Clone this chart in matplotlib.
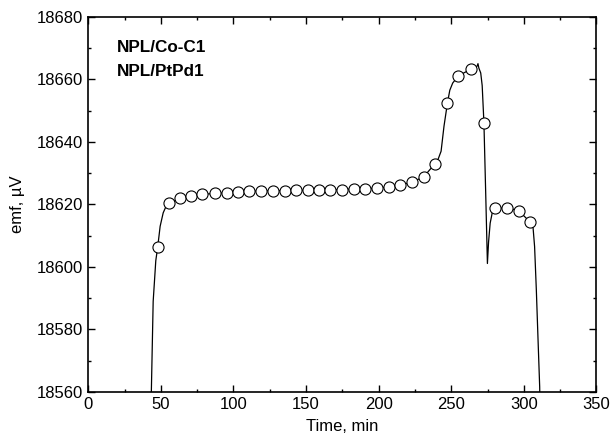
import matplotlib.pyplot as plt
from matplotlib.ticker import MultipleLocator

plt.rcParams['font.family'] = ['Liberation Sans', 'DejaVu Sans']

# Puntos medidos (marcadores)
t_puntos = [47.8, 55.3, 63.1, 70.9, 78.5, 87.2, 95.3, 102.8, 110.8, 118.9, 126.9,
            135.2, 142.9, 151.2, 159.0, 166.8, 174.8, 182.9, 190.9, 198.9, 206.9,
            215.0, 222.9, 231.0, 238.6, 247.4, 254.9, 263.4, 272.5, 280.4, 288.2,
            296.4, 304.2]
emf_puntos = [18606.3, 18620.3, 18621.9, 18622.8, 18623.2, 18623.5, 18623.7, 18624.0,
              18624.2, 18624.3, 18624.4, 18624.4, 18624.5, 18624.5, 18624.7, 18624.7,
              18624.7, 18625.0, 18625.0, 18625.2, 18625.6, 18626.2, 18627.1, 18628.8,
              18632.9, 18652.5, 18661.1, 18663.2, 18646.1, 18618.7, 18618.9, 18618.0,
              18614.4]

# Registro continuo (linea)
t_linea = [43.0, 44.7, 46.5, 47.8, 49.5, 51.6, 53.5, 55.3, 63.1, 70.9, 78.5, 87.2,
           95.3, 102.8, 110.8, 118.9, 126.9, 135.2, 142.9, 151.2, 159.0, 166.8, 174.8,
           182.9, 190.9, 198.9, 206.9, 215.0, 222.9, 231.0, 238.6, 241.0, 243.0, 245.0,
           247.4, 249.0, 251.0, 254.9, 263.4, 266.5, 267.8, 268.4, 269.0, 270.3, 271.3,
           272.5, 273.7, 274.9, 275.7, 276.8, 278.3, 280.4, 288.2, 296.4, 304.2, 306.3,
           307.4, 308.6, 309.7, 310.9, 311.3]
emf_linea = [18550.0, 18589.0, 18602.0, 18606.3, 18613.0, 18617.3, 18619.3, 18620.3,
             18621.9, 18622.8, 18623.2, 18623.5, 18623.7, 18624.0, 18624.2, 18624.3,
             18624.4, 18624.4, 18624.5, 18624.5, 18624.7, 18624.7, 18624.7, 18625.0,
             18625.0, 18625.2, 18625.6, 18626.2, 18627.1, 18628.8, 18632.9, 18634.5,
             18637.0, 18645.0, 18652.5, 18656.5, 18658.8, 18661.1, 18663.2, 18663.8,
             18664.2, 18665.0, 18663.6, 18662.0, 18658.0, 18646.1, 18624.0, 18601.1,
             18608.0, 18614.0, 18617.5, 18618.7, 18618.9, 18618.0, 18614.4, 18612.8,
             18606.5, 18592.6, 18577.7, 18561.7, 18550.0]

fig = plt.figure(figsize=(6.13, 4.4), dpi=100)
ax = fig.add_axes([0.144, 0.109, 0.829, 0.853])

ax.plot(t_linea, emf_linea, color='black', linewidth=0.9)
ax.plot(t_puntos, emf_puntos, linestyle='none', marker='o', markersize=8,
        markerfacecolor='white', markeredgecolor='black', markeredgewidth=0.8)

ax.set_xlim(0, 350)
ax.set_ylim(18560, 18680)
ax.xaxis.set_major_locator(MultipleLocator(50))
ax.xaxis.set_minor_locator(MultipleLocator(25))
ax.yaxis.set_major_locator(MultipleLocator(20))
ax.yaxis.set_minor_locator(MultipleLocator(10))
ax.tick_params(which='both', direction='in', top=True, right=True, labelsize=12)
ax.tick_params(which='major', length=5, width=1)
ax.tick_params(which='minor', length=2.5, width=1)
for s in ax.spines.values():
    s.set_linewidth(1.2)

ax.set_xlabel('Time, min', fontsize=12, labelpad=5)
ax.set_ylabel('emf, \u00b5V', fontsize=12, labelpad=9)

ax.text(0.056, 0.917, 'NPL/Co-C1', transform=ax.transAxes, fontsize=12.3,
        fontweight='bold', va='center', ha='left')
ax.text(0.056, 0.855, 'NPL/PtPd1', transform=ax.transAxes, fontsize=12.3,
        fontweight='bold', va='center', ha='left')

plt.savefig('out.png', dpi=100)
